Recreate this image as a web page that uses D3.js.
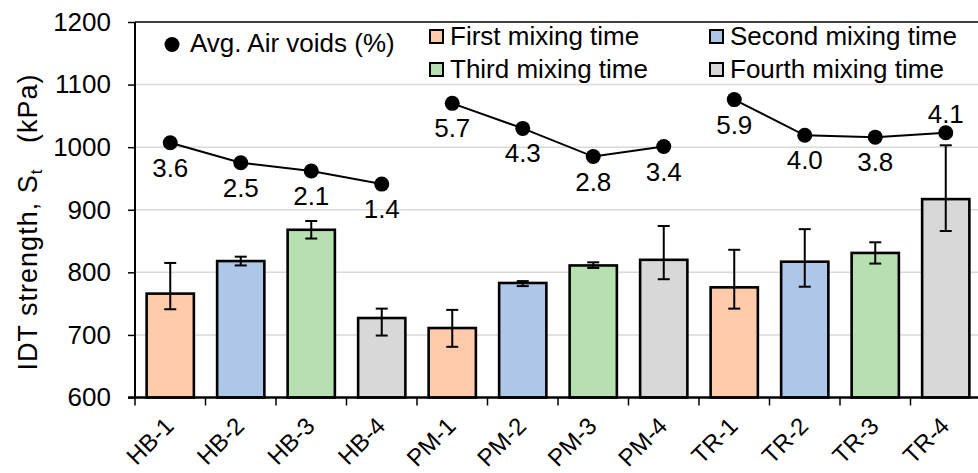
<!DOCTYPE html>
<html>
<head>
<meta charset="utf-8">
<script src="https://cdn.jsdelivr.net/npm/d3@7"></script>
<style>
  html, body { margin: 0; padding: 0; background: #fff; }
  svg { display: block; font-family: "Liberation Sans", Arial, sans-serif; }
</style>
</head>
<body>
<svg id="chart" width="978" height="473"></svg>
<script>
// ---- data ----
const categories = ["HB-1","HB-2","HB-3","HB-4","PM-1","PM-2","PM-3","PM-4","TR-1","TR-2","TR-3","TR-4"];
const groups     = ["HB","HB","HB","HB","PM","PM","PM","PM","TR","TR","TR","TR"];
const mixingTime = ["First","Second","Third","Fourth","First","Second","Third","Fourth","First","Second","Third","Fourth"];
const strength   = [766, 818, 868, 727, 711, 783, 811, 820, 776, 817, 831, 917];
const errLow     = [741, 811, 854, 699, 681, 778, 807, 789, 742, 777, 814, 866];
const errHigh    = [815, 825, 882, 742, 740, 786, 816, 874, 836, 869, 848, 1003];
const airVoids   = ["3.6","2.5","2.1","1.4","5.7","4.3","2.8","3.4","5.9","4.0","3.8","4.1"];
const airVoidsPlot = [1007, 975, 962, 941, 1070, 1030, 985, 1001, 1076, 1019, 1016, 1023];
const labelAbove = [false,false,false,false,false,false,false,false,false,false,false,true];
const yTicks = [600, 700, 800, 900, 1000, 1100, 1200];
const legendNames = ["First mixing time","Second mixing time","Third mixing time","Fourth mixing time"];
const legendKeys  = ["First","Second","Third","Fourth"];
const colors = {First: "#FFCBAA", Second: "#AEC7E8", Third: "#B7E0B1", Fourth: "#D8D8D8"};

// ---- layout ----
const svg = d3.select("#chart");
const L = 135, R = 981, T = 22, B = 397.5;
const FS = 26;

const x = d3.scaleBand().domain(categories).range([L, R]).paddingInner(0.33).paddingOuter(0.165);
const y = d3.scaleLinear().domain([600, 1200]).range([B, T]);

svg.append("rect").attr("width", 978).attr("height", 473).attr("fill", "#fff");

// gridlines
svg.append("g").selectAll("line").data(yTicks.filter(d => d > 600 && d < 1200)).join("line")
  .attr("x1", L).attr("x2", R).attr("y1", d => y(d)).attr("y2", d => y(d))
  .attr("stroke", "#d9d9d9").attr("stroke-width", 1.5);

// plot border (top / right)
svg.append("line").attr("x1", L).attr("x2", R).attr("y1", T).attr("y2", T)
  .attr("stroke", "#000").attr("stroke-width", 1.5);
svg.append("line").attr("x1", R).attr("x2", R).attr("y1", T).attr("y2", B)
  .attr("stroke", "#000").attr("stroke-width", 1.5);

// bars
const idx = d3.range(categories.length);
svg.append("g").selectAll("rect").data(idx).join("rect")
  .attr("x", i => x(categories[i]))
  .attr("width", x.bandwidth())
  .attr("y", i => y(strength[i]))
  .attr("height", i => y(600) - y(strength[i]))
  .attr("fill", i => colors[mixingTime[i]])
  .attr("stroke", "#000").attr("stroke-width", 2.6);

// error bars
const eb = svg.append("g").attr("stroke", "#000").attr("stroke-width", 2);
idx.forEach(i => {
  const cx = x(categories[i]) + x.bandwidth() / 2;
  eb.append("line").attr("x1", cx).attr("x2", cx).attr("y1", y(errLow[i])).attr("y2", y(errHigh[i]));
  eb.append("line").attr("x1", cx - 6).attr("x2", cx + 6).attr("y1", y(errLow[i])).attr("y2", y(errLow[i]));
  eb.append("line").attr("x1", cx - 6).attr("x2", cx + 6).attr("y1", y(errHigh[i])).attr("y2", y(errHigh[i]));
});

// y axis
const yAxis = d3.axisLeft(y).tickValues(yTicks).tickSize(7).tickPadding(17).tickFormat(d3.format("d"));
const gy = svg.append("g").attr("transform", `translate(${L},0)`).call(yAxis);
gy.select(".domain").remove();
gy.selectAll(".tick line").attr("stroke", "#000").attr("stroke-width", 1.5);
gy.selectAll(".tick text").attr("font-size", FS).attr("fill", "#000")
  .attr("font-family", "Liberation Sans, Arial, sans-serif");
svg.append("line").attr("x1", L).attr("x2", L).attr("y1", T).attr("y2", B)
  .attr("stroke", "#000").attr("stroke-width", 2);

// x axis
const gx = svg.append("g");
const bounds = d3.range(categories.length + 1).map(i => L + i * x.step());
gx.selectAll("line.tk").data(bounds).join("line").attr("class", "tk")
  .attr("x1", d => d).attr("x2", d => d).attr("y1", B).attr("y2", B + 8)
  .attr("stroke", "#000").attr("stroke-width", 1.5);
gx.append("line").attr("x1", L - 7).attr("x2", R).attr("y1", B).attr("y2", B)
  .attr("stroke", "#000").attr("stroke-width", 2.5);
gx.selectAll("text").data(categories).join("text")
  .attr("transform", d => `translate(${x(d) + x.bandwidth() / 2 + 5},${B + 30}) rotate(-45)`)
  .attr("text-anchor", "end").attr("font-size", 24).attr("fill", "#000").text(d => d);

// y title
const yt = svg.append("text")
  .attr("transform", `translate(37,222) rotate(-90)`)
  .attr("text-anchor", "middle").attr("font-size", 27).attr("letter-spacing", 1).attr("fill", "#000");
yt.append("tspan").text("IDT strength, S");
yt.append("tspan").attr("font-size", 17).attr("dy", 5).text("t");
yt.append("tspan").attr("dy", -5).text("\u00a0\u00a0\u00a0(kPa)");

// air voids line (separate per group)
const line = d3.line().x(i => x(categories[i]) + x.bandwidth() / 2).y(i => y(airVoidsPlot[i]));
const groupNames = Array.from(new Set(groups));
svg.append("g").selectAll("path").data(groupNames.map(g => idx.filter(i => groups[i] === g))).join("path")
  .attr("d", line).attr("fill", "none").attr("stroke", "#000").attr("stroke-width", 2);
svg.append("g").selectAll("circle").data(idx).join("circle")
  .attr("cx", i => x(categories[i]) + x.bandwidth() / 2)
  .attr("cy", i => y(airVoidsPlot[i]))
  .attr("r", 7.5).attr("fill", "#000");
svg.append("g").selectAll("text").data(idx).join("text")
  .attr("x", i => x(categories[i]) + x.bandwidth() / 2)
  .attr("y", i => y(airVoidsPlot[i]) + (labelAbove[i] ? -19 : 25))
  .attr("dy", "0.35em").attr("text-anchor", "middle")
  .attr("font-size", FS).attr("fill", "#000").text(i => airVoids[i]);

// legend
svg.append("circle").attr("cx", 172).attr("cy", 44.5).attr("r", 7.5).attr("fill", "#000");
svg.append("text").attr("x", 190).attr("y", 52).attr("font-size", FS).attr("fill", "#000")
  .text("Avg. Air voids (%)");
const legPos = [[430, 30], [710, 30], [430, 63], [710, 63]];
legendKeys.forEach((k, i) => {
  const [lx, ly] = legPos[i];
  svg.append("rect").attr("x", lx).attr("y", ly).attr("width", 13).attr("height", 13)
    .attr("fill", colors[k]).attr("stroke", "#000").attr("stroke-width", 2);
  svg.append("text").attr("x", lx + 20).attr("y", ly + 15).attr("font-size", FS).attr("fill", "#000")
    .text(legendNames[i]);
});
</script>
</body>
</html>
